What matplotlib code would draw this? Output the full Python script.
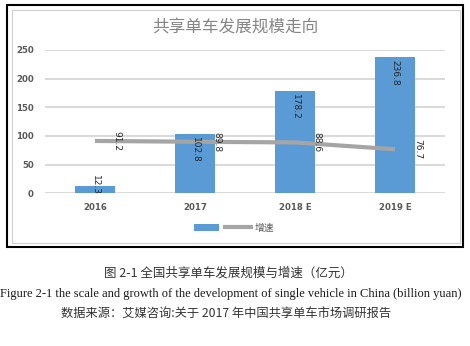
import matplotlib
matplotlib.use("Agg")
import matplotlib.pyplot as plt
from matplotlib.patches import Rectangle, Patch
from matplotlib.lines import Line2D

plt.rcParams["font.family"] = ["Noto Sans CJK SC", "DejaVu Sans"]

# ------------------ Data ------------------
years = ["2016", "2017", "2018 E", "2019 E"]
scale = [12.3, 102.8, 178.2, 236.8]      # 规模 (亿元)
growth = [91.2, 89.8, 88.6, 76.7]        # 增速
yticks = [0, 50, 100, 150, 200, 250]

BAR_BLUE = "#5b9bd5"
LINE_GRAY = "#a5a5a5"
GRID_GRAY = "#d9d9d9"
TICK_COLOR = "#595959"
LABEL_FONT = ["Liberation Sans Narrow", "DejaVu Sans"]

W, H = 470, 346
fig = plt.figure(figsize=(W / 100, H / 100), dpi=100)

def px(x0, y0, x1, y1):
    # pixel box -> figure fraction rect
    return [x0 / W, 1 - y1 / H, (x1 - x0) / W, (y1 - y0) / H]

# chart frame
outer = px(7, 5, 463, 247)
inner = px(12, 10, 460, 243)
fig.patches.append(Rectangle(outer[:2], *outer[2:], transform=fig.transFigure,
                             fill=False, edgecolor="black", linewidth=1.5))
fig.patches.append(Rectangle(inner[:2], *inner[2:], transform=fig.transFigure,
                             fill=False, edgecolor="#d0d0d0", linewidth=0.8))

ax = fig.add_axes(px(45, 49.8, 445, 193.3))
x = list(range(len(years)))

ax.bar(x, scale, width=0.4, color=BAR_BLUE, zorder=2)
ax.plot(x, growth, color=LINE_GRAY, linewidth=3, solid_capstyle="butt", zorder=3)

# bar value labels, rotated, inside the top of each bar
for xi, v in zip(x, scale):
    ax.annotate(f"{v}", (xi, max(v, 37)), xytext=(0, -2), textcoords="offset points",
                rotation=270, ha="center", va="top", fontsize=6.5,
                family=LABEL_FONT, color="#262626", zorder=4)

# growth value labels to the right of each point
for xi, g in zip(x, growth):
    ax.annotate(f"{g}", (xi, g), xytext=(16, 0), textcoords="offset points",
                rotation=270, ha="center", va="center", fontsize=6.5,
                family=LABEL_FONT, color="#262626", zorder=4)

ax.set_xlim(-0.5, len(years) - 0.5)
ax.set_ylim(0, 250)
ax.set_yticks(yticks)
ax.set_xticks(x)
ax.set_xticklabels(years)
ax.tick_params(length=0, labelsize=6.2, colors=TICK_COLOR, pad=7)
ax.tick_params(axis="y", pad=8)
for lbl in ax.get_xticklabels() + ax.get_yticklabels():
    lbl.set_family(["DejaVu Sans"])
    lbl.set_fontweight("bold")
ax.yaxis.grid(True, color=GRID_GRAY, linewidth=1.4, zorder=0)
ax.set_axisbelow(True)
for s in ax.spines.values():
    s.set_visible(False)

fig.text(235 / W, 1 - 28 / H, "共享单车发展规模走向", ha="center", va="center",
         fontsize=12, color="#858585")

handles = [Patch(facecolor=BAR_BLUE), Line2D([], [], color=LINE_GRAY, linewidth=3)]
fig.legend(handles, ["", "增速"], loc="center", bbox_to_anchor=(234 / W, 1 - 228 / H),
           ncol=2, frameon=False, fontsize=7, handlelength=2.6, handleheight=0.8,
           handletextpad=0.4, columnspacing=0.2, labelcolor=TICK_COLOR)

# captions below the chart
fig.text(228 / W, 1 - 273 / H, "图 2-1 全国共享单车发展规模与增速（亿元）",
         ha="center", va="center", fontsize=9, color="#333333")
fig.text(231 / W, 1 - 294 / H,
         "Figure 2-1 the scale and growth of the development of single vehicle in China (billion yuan)",
         ha="center", va="center", fontsize=9, family=["Liberation Serif"], color="#1a1a1a")
fig.text(226 / W, 1 - 314 / H, "数据来源：艾媒咨询:关于 2017 年中国共享单车市场调研报告",
         ha="center", va="center", fontsize=8.8, color="#333333")

fig.savefig("out.png", dpi=100)
